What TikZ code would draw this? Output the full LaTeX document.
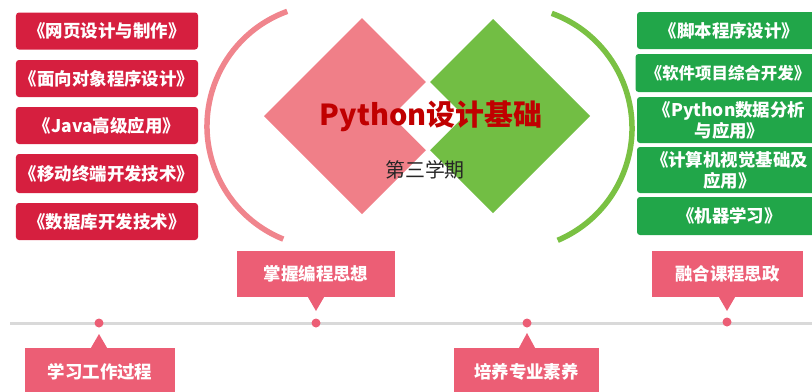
\documentclass[tikz,border=0pt]{standalone}
\usepackage{fontspec}
\setmainfont{Noto Sans CJK SC}
\definecolor{cRed}{HTML}{D61F3F}
\definecolor{cGreen}{HTML}{21A649}
\definecolor{cPink}{HTML}{EC5E75}
\definecolor{cDiaPink}{HTML}{F07F88}
\definecolor{cDiaGreen}{HTML}{72BE44}
\definecolor{cArcPink}{HTML}{F0858D}
\definecolor{cArcGreen}{HTML}{7AC143}
\definecolor{cTitle}{HTML}{C00000}
\definecolor{cLine}{HTML}{D9D9D9}
\tikzset{
  redbox/.style={fill=cRed, rounded corners=3bp, minimum width=182bp, minimum height=37bp,
    text=white, inner sep=0pt, font=\bfseries\fontsize{17.5}{20}\selectfont},
  greenbox/.style={fill=cGreen, rounded corners=3bp, minimum width=185bp, minimum height=38bp,
    text=white, inner sep=0pt, align=center, font=\bfseries\fontsize{17.5}{21}\selectfont},
  callout/.style={fill=cPink, minimum height=46bp, inner sep=0pt, text=white,
    font=\bfseries\fontsize{17.5}{20}\selectfont},
  tldot/.style={circle, fill=cPink, minimum size=9bp, inner sep=0pt},
}
\begin{document}
\begin{tikzpicture}[x=1bp,y=-1bp]
\useasboundingbox (0,0) rectangle (812,391);
\clip (0,0) rectangle (812,391);
% arcs
\draw[cArcPink, line width=5.5bp] (329,126) ++(-110:122) arc[start angle=-110, end angle=-248, radius=122];
\draw[cArcGreen, line width=5.5bp] (510,128) ++(-70:122) arc[start angle=-70, end angle=67, radius=122];
% diamonds
\fill[cDiaPink] (264,116) -- (362,18) -- (460,116) -- (362,214) -- cycle;
\fill[cDiaGreen] (396,116) -- (493,19) -- (590,116) -- (493,213) -- cycle;
\fill[white] (392,116) -- (428,80) -- (464,116) -- (428,152) -- cycle;
\node[text=cTitle, font=\bfseries\fontsize{29}{33}\selectfont] (title) at (431,116) {Python设计基础};
\node[text=black!85, font=\fontsize{20}{22}\selectfont] (term) at (425,170) {第三学期};
% left boxes
\node[redbox] (l1) at (107,31) {《网页设计与制作》};
\node[redbox] (l2) at (107,78.5) {《面向对象程序设计》};
\node[redbox] (l3) at (107,125.5) {《Java高级应用》};
\node[redbox, minimum height=39bp] (l4) at (107,173.5) {《移动终端开发技术》};
\node[redbox] (l5) at (107,221.5) {《数据库开发技术》};
% right boxes
\node[greenbox, minimum height=37bp] (r1) at (729.5,30.5) {《脚本程序设计》};
\node[greenbox, font=\bfseries\fontsize{16.5}{20}\selectfont] (r2) at (728,73) {《软件项目综合开发》};
\node[greenbox, minimum height=46bp] (r3) at (729.5,120) {《Python数据分析\\与应用》};
\node[greenbox, minimum height=46bp] (r4) at (729.5,170) {《计算机视觉基础及\\应用》};
\node[greenbox] (r5) at (729.5,216) {《机器学习》};
% timeline
\coordinate (tlA) at (10,323);
\coordinate (tlB) at (812,323);
\draw[cLine, line width=3bp] (tlA) -- (tlB);
% callouts
\node[callout, minimum width=158bp] (c2) at (316,274) {掌握编程思想};
\node[callout, minimum width=151bp] (c4) at (727.5,274) {融合课程思政};
\node[callout, minimum width=150bp, minimum height=48bp] (c1) at (100,372) {学习工作过程};
\node[callout, minimum width=145bp, minimum height=48bp] (c3) at (526.5,372) {培养专业素养};
\coordinate (p2) at (316,323);
\coordinate (p4) at (727,322);
\coordinate (p1) at (99,323);
\coordinate (p3) at (527,323);
\fill[cPink] ([xshift=-8bp]c2.south -| p2) -- ([xshift=8bp]c2.south -| p2) -- ([yshift=12bp]p2) -- cycle;
\fill[cPink] ([xshift=-8bp]c4.south -| p4) -- ([xshift=8bp]c4.south -| p4) -- ([yshift=11bp]p4) -- cycle;
\fill[cPink] ([xshift=-8bp]c1.north -| p1) -- ([xshift=8bp]c1.north -| p1) -- ([yshift=-11bp]p1) -- cycle;
\fill[cPink] ([xshift=-8bp]c3.north -| p3) -- ([xshift=8bp]c3.north -| p3) -- ([yshift=-10bp]p3) -- cycle;
\node[tldot] (d1) at (p1) {};
\node[tldot] (d2) at (p2) {};
\node[tldot] (d3) at (p3) {};
\node[tldot] (d4) at (p4) {};
\end{tikzpicture}
\end{document}
